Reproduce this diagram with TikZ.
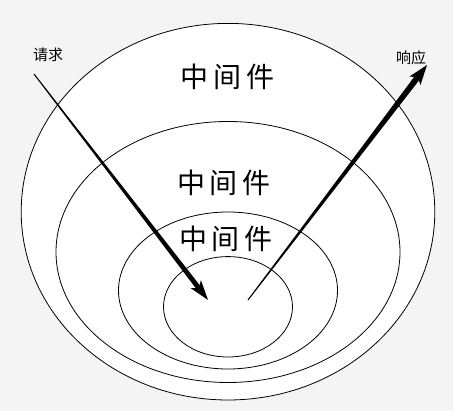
\documentclass[tikz,border=0pt]{standalone}
\usepackage{fontspec}
\newfontfamily\cjk{Noto Sans CJK SC}
\usetikzlibrary{calc}
\definecolor{bggray}{RGB}{244,244,244}

\begin{document}
\begin{tikzpicture}[x=1pt,y=-1pt,
		ring/.style={draw=black,line width=0.8pt},
		layertext/.style={font=\cjk\fontsize{28}{30}\selectfont,inner sep=0pt},
		flowtext/.style={font=\cjk\fontsize{15}{17}\selectfont,inner sep=0pt}]
	\useasboundingbox (0,0) rectangle (453,411);
	\fill[bggray] (0,0) rectangle (453,411);
	% rings, outer to inner
	\filldraw[ring,fill=white] (228,211.7) ellipse (206.8 and 188.3);
	\draw[ring] (228,252) ellipse (172 and 130.5);
	\draw[ring] (228,290.5) ellipse (109.5 and 78.5);
	\draw[ring] (228,306.8) ellipse (64.5 and 50.2);
	% labels
	\node[layertext] (outer) at (227.5,77) {中\,间\,件};
	\node[layertext] (middle) at (224,183) {中\,间\,件};
	\node[layertext] (inner) at (226,239) {中\,间\,件};
	\node[flowtext] (req) at (48,54.5) {请求};
	\node[flowtext] (resp) at (411,58) {响应};
	% request arrow
	\coordinate (reqA) at (34,74);
	\coordinate (reqB) at (208,300);
	\coordinate (reqC) at ($(reqB)!20pt!(reqA)$);
	\coordinate (reqN) at ($(reqB)!15pt!(reqA)$);
	\fill ($(reqA)!0.5pt!90:(reqB)$) -- ($(reqN)!2.5pt!90:(reqB)$)
		-- ($(reqN)!2.5pt!-90:(reqB)$) -- ($(reqA)!0.5pt!-90:(reqB)$) -- cycle;
	\fill (reqB) -- ($(reqC)!6.5pt!90:(reqB)$) -- (reqN) -- ($(reqC)!6.5pt!-90:(reqB)$) -- cycle;
	% response arrow
	\coordinate (respA) at (248,300);
	\coordinate (respB) at (427,65);
	\coordinate (respC) at ($(respB)!20pt!(respA)$);
	\coordinate (respN) at ($(respB)!15pt!(respA)$);
	\fill ($(respA)!0.5pt!90:(respB)$) -- ($(respN)!3pt!90:(respB)$)
		-- ($(respN)!3pt!-90:(respB)$) -- ($(respA)!0.5pt!-90:(respB)$) -- cycle;
	\fill (respB) -- ($(respC)!7pt!90:(respB)$) -- (respN) -- ($(respC)!7pt!-90:(respB)$) -- cycle;
\end{tikzpicture}
\end{document}
